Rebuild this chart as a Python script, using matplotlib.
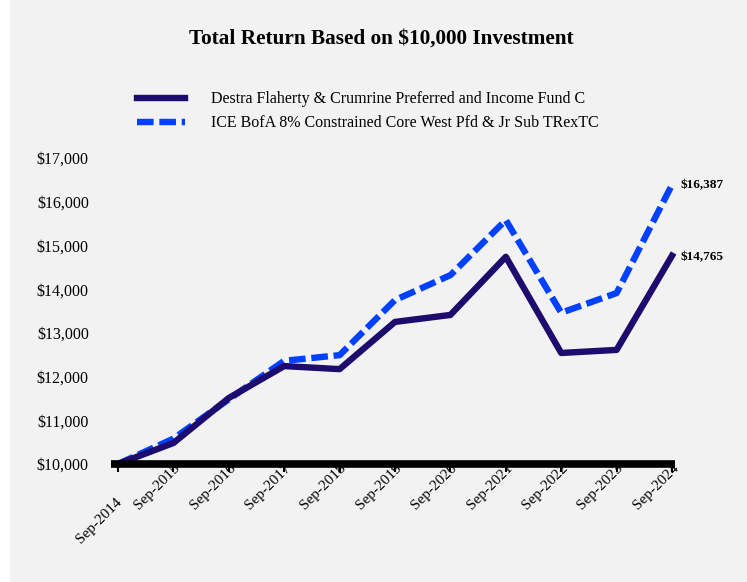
import matplotlib.pyplot as plt
from matplotlib.transforms import ScaledTranslation

# data
years = ["Sep-2014", "Sep-2015", "Sep-2016", "Sep-2017", "Sep-2018", "Sep-2019",
         "Sep-2020", "Sep-2021", "Sep-2022", "Sep-2023", "Sep-2024"]
fund = [10000, 10480, 11510, 12240, 12170, 13250, 13410, 14740, 12540, 12610, 14765]
index = [10000, 10580, 11480, 12360, 12490, 13750, 14320, 15580, 13460, 13910, 16387]
fund_name = "Destra Flaherty & Crumrine Preferred and Income Fund C"
index_name = "ICE BofA 8% Constrained Core West Pfd & Jr Sub TRexTC"
yticks = [10000, 11000, 12000, 13000, 14000, 15000, 16000, 17000]

plt.rcParams['font.family'] = ['Liberation Serif', 'DejaVu Serif']

fig = plt.figure(figsize=(7.47, 5.82), dpi=100, facecolor='#f2f2f2')
# white strip on the left edge
fig.patches.append(plt.Rectangle((0, 0), 9 / 747, 1, transform=fig.transFigure,
                                 color='white', zorder=0))

ax = fig.add_axes([111 / 747, 118 / 582, 564 / 747, 306 / 582])
ax.set_facecolor('#f2f2f2')

x = list(range(len(years)))
l2, = ax.plot(x, index, color='#0041ff', lw=4.6, dashes=(2.6, 0.9),
              solid_capstyle='butt', dash_capstyle='butt', zorder=3, clip_on=False)
l1, = ax.plot(x, fund, color='#1e0b6e', lw=4.6, zorder=4, clip_on=False)

ax.set_xlim(-0.126, 10.054)
ax.set_ylim(10000, 17000)

for s in ['top', 'right', 'left', 'bottom']:
    ax.spines[s].set_visible(False)
# thick black base line, drawn over the tick labels
ax.plot([0, 1], [0, 0], transform=ax.transAxes, color='black', lw=5.5,
        solid_capstyle='butt', clip_on=False, zorder=6)

ax.set_yticks(yticks)
ax.set_yticklabels(['${:,}'.format(v) for v in yticks], fontsize=11.5)
ax.tick_params(axis='y', length=0, pad=16)

ax.set_xticks(x)
ax.set_xticklabels(years, rotation=45, ha='right', rotation_mode='anchor', fontsize=11)
ax.tick_params(axis='x', length=6, width=1.5, pad=-8)
first = ax.get_xticklabels()[0]
first.set_transform(first.get_transform() + ScaledTranslation(-3 / 100, -34 / 100, fig.dpi_scale_trans))

ax.annotate('${:,}'.format(index[-1]), (x[-1], index[-1]), xytext=(6, 0),
            textcoords='offset points', va='center', ha='left',
            fontsize=9.5, fontweight='bold')
ax.annotate('${:,}'.format(fund[-1]), (x[-1], fund[-1]), xytext=(6, -1),
            textcoords='offset points', va='center', ha='left',
            fontsize=9.5, fontweight='bold')

fig.text(381 / 747, 1 - 39 / 582, "Total Return Based on $10,000 Investment",
         ha='center', va='center', fontsize=15.3, fontweight='bold')

fig.legend([l1, l2], [fund_name, index_name], loc='upper left',
           bbox_to_anchor=(123 / 747, 1 - 77 / 582), frameon=False,
           fontsize=11.5, handlelength=3.0, handletextpad=1.6, labelspacing=0.5)

fig.savefig('out.png', dpi=100, facecolor=fig.get_facecolor())
